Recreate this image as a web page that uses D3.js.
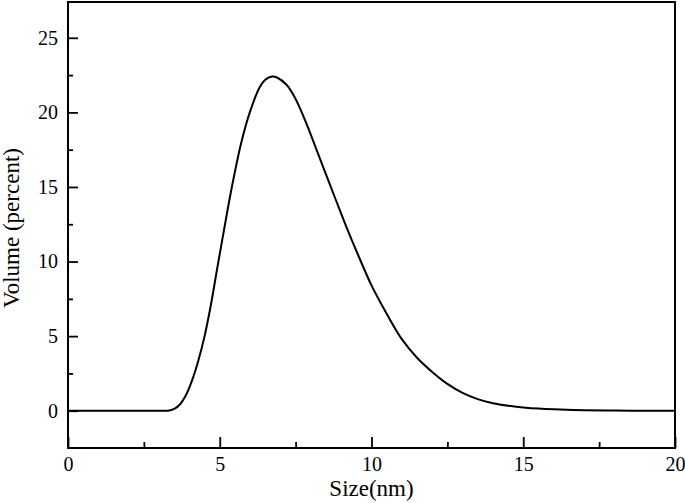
<!DOCTYPE html>
<html>
<head>
<meta charset="utf-8">
<script src="https://cdn.jsdelivr.net/npm/d3@7"></script>
<style>
  body { margin: 0; background: #fff; }
  svg { display: block; }
  text { font-family: "Liberation Serif", "Times New Roman", serif; fill: #000; }
</style>
</head>
<body>
<div id="chart"></div>
<script>
// valeurs
var sizeNm = [0, 2, 3, 3.29, 3.5, 3.7, 3.9, 4.1, 4.3, 4.5, 4.7, 4.93, 5.2, 5.39, 5.7, 5.99,
              6.32, 6.5, 6.72, 6.9, 7.2, 7.4, 7.63, 7.9, 8.2, 8.5, 8.8, 9.1, 9.4, 9.8,
              10.0, 10.5, 11.0, 11.5, 12.0, 12.5, 13.0, 13.5, 14.0, 14.5, 15.0, 15.5,
              16.0, 17.0, 18.0, 19.0, 20];
var volume = [0, 0, 0, 0, 0.12, 0.45, 1.1, 2.1, 3.4, 5.0, 7.0, 9.7, 12.8, 14.9, 17.9, 20,
              21.7, 22.19, 22.4, 22.32, 21.85, 21.26, 20.34, 19.03, 17.44, 15.85, 14.26, 12.7, 11.2, 9.3,
              8.4, 6.5, 4.8, 3.55, 2.6, 1.8, 1.2, 0.78, 0.5, 0.33, 0.22, 0.14,
              0.09, 0.035, 0.01, 0, 0];
var xTicks = [0, 5, 10, 15, 20];
var xMinor = [2.5, 7.5, 12.5, 17.5];
var yTicks = [0, 5, 10, 15, 20, 25];
var yMinor = [2.5, 7.5, 12.5, 17.5, 22.5];

var W = 685, H = 503;
var pLeft = 68, pRight = 675, pTop = 2, pBottom = 448;

var svg = d3.select("#chart").append("svg")
    .attr("width", W)
    .attr("height", H);

var x = d3.scaleLinear().domain([0, 20]).range([pLeft, pRight]);
var y = d3.scaleLinear().domain([-2.5, 27.4]).range([pBottom, pTop]);

// axe x (ticks vers l'intérieur)
svg.append("g")
    .attr("transform", "translate(0," + pBottom + ")")
    .call(d3.axisBottom(x).tickValues(xTicks).tickSizeInner(-11).tickSizeOuter(0).tickPadding(9));
svg.append("g")
    .attr("transform", "translate(0," + pBottom + ")")
    .call(d3.axisBottom(x).tickValues(xMinor).tickSizeInner(-6).tickSizeOuter(0).tickFormat(""));

// axe y
svg.append("g")
    .attr("transform", "translate(" + pLeft + ",0)")
    .call(d3.axisLeft(y).tickValues(yTicks).tickSizeInner(-10).tickSizeOuter(0).tickPadding(10));
svg.append("g")
    .attr("transform", "translate(" + pLeft + ",0)")
    .call(d3.axisLeft(y).tickValues(yMinor).tickSizeInner(-5).tickSizeOuter(0).tickFormat(""));

svg.selectAll(".domain").remove();
svg.selectAll(".tick line").attr("stroke", "#000").attr("stroke-width", 1.8);
svg.selectAll(".tick text").style("font-size", "20px").style("font-family", "Liberation Serif");

// cadre
svg.append("rect")
    .attr("x", pLeft)
    .attr("y", pTop)
    .attr("width", pRight - pLeft)
    .attr("height", pBottom - pTop)
    .attr("fill", "none")
    .attr("stroke", "#000")
    .attr("stroke-width", 2);

// courbe
var line = d3.line()
    .x(function(d, i) { return x(sizeNm[i]); })
    .y(function(d) { return y(d); })
    .curve(d3.curveCatmullRom.alpha(0.5));

svg.append("path")
    .datum(volume)
    .attr("d", line)
    .attr("fill", "none")
    .attr("stroke", "#000")
    .attr("stroke-width", 2);

// titres
svg.append("text")
    .attr("x", (pLeft + pRight) / 2)
    .attr("y", 496)
    .attr("text-anchor", "middle")
    .style("font-size", "23px")
    .text("Size(nm)");

svg.append("text")
    .attr("transform", "translate(19," + 228 + ") rotate(-90)")
    .attr("text-anchor", "middle")
    .style("font-size", "23px")
    .text("Volume (percent)");
</script>
</body>
</html>
